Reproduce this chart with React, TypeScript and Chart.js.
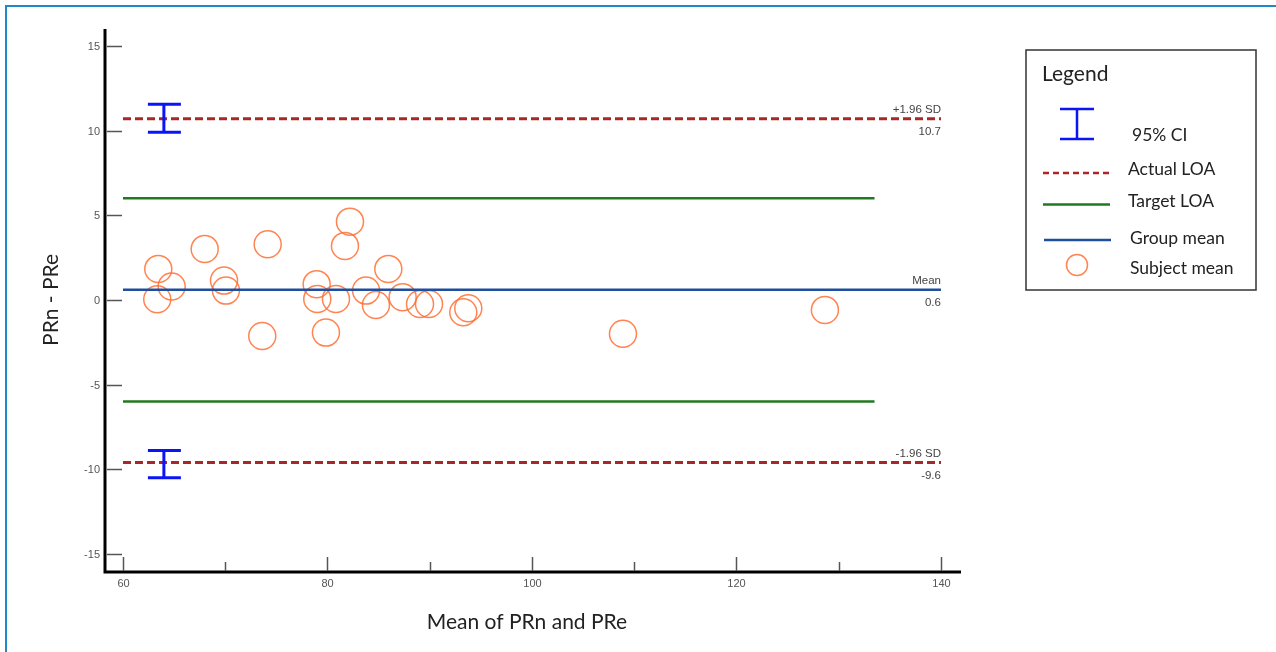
import React, { useEffect, useRef } from "react";
import { Chart, registerables } from "chart.js";

Chart.register(...registerables);

// ---- data ----
const subjectX = [63.45, 64.76, 63.35, 67.99, 69.88, 70.07, 74.15, 73.62, 82.2, 81.71, 78.94, 79.0, 80.83, 79.85, 85.95, 83.77, 84.74, 87.35, 89.05, 89.93, 93.28, 93.77, 108.9, 128.65];
const subjectY = [1.83, 0.79, 0.04, 3.01, 1.14, 0.55, 3.29, -2.13, 4.62, 3.19, 0.93, 0.06, 0.06, -1.93, 1.83, 0.55, -0.3, 0.16, -0.24, -0.24, -0.73, -0.49, -2.0, -0.59];
const meanDiff = 0.6;
const upperLOA = 10.7;
const lowerLOA = -9.6;
const targetLOA = [6, -6];
const lineStart = 60;
const lineEnd = 140;
const targetEnd = 133.5;
const ciX = 64;
const ciUpper = [9.9, 11.55];
const ciLower = [-10.5, -8.9];
const xTicks = [60, 80, 100, 120, 140];
const xMinorTicks = [70, 90, 110, 130];
const yTicks = [-15, -10, -5, 0, 5, 10, 15];
const xTitle = "Mean of PRn and PRe";
const yTitle = "PRn - PRe";
const legendItems = ["95% CI", "Actual LOA", "Target LOA", "Group mean", "Subject mean"];

const C_RED = "#A82828";
const C_GREEN = "#1F7A1F";
const C_BLUE = "#1F4E9C";
const C_CI = "#0A14F5";
const C_PT = "rgba(255,110,50,0.85)";
const UI_FONT = "Lato, 'Open Sans', sans-serif";
const TICK_FONT = "'Liberation Sans', Arial, sans-serif";

const overlayPlugin = {
  id: "overlay",
  afterDraw(chart: any) {
    const ctx = chart.ctx;
    const xs = chart.scales.x;
    const ys = chart.scales.y;
    const area = chart.chartArea;
    ctx.save();

    // outer blue frame
    ctx.strokeStyle = "#1E8BC8";
    ctx.lineWidth = 2;
    ctx.beginPath();
    ctx.moveTo(6, 652);
    ctx.lineTo(6, 6);
    ctx.lineTo(1276, 6);
    ctx.stroke();

    // axes lines
    ctx.strokeStyle = "#000";
    ctx.lineWidth = 3;
    ctx.beginPath();
    ctx.moveTo(area.left, area.top);
    ctx.lineTo(area.left, area.bottom);
    ctx.lineTo(area.right, area.bottom);
    ctx.stroke();

    // y ticks (pointing inward)
    ctx.strokeStyle = "#555";
    ctx.lineWidth = 1.5;
    ctx.fillStyle = "#555";
    ctx.font = `11px ${TICK_FONT}`;
    ctx.textAlign = "right";
    ctx.textBaseline = "middle";
    yTicks.forEach((v) => {
      const py = Math.round(ys.getPixelForValue(v)) + 0.5;
      ctx.beginPath();
      ctx.moveTo(area.left + 2, py);
      ctx.lineTo(area.left + 17, py);
      ctx.stroke();
      ctx.fillText(String(v), area.left - 5, py);
    });

    // x ticks
    ctx.textAlign = "center";
    xTicks.forEach((v) => {
      const px = Math.round(xs.getPixelForValue(v)) + 0.5;
      ctx.beginPath();
      ctx.moveTo(px, area.bottom - 1);
      ctx.lineTo(px, area.bottom - 15);
      ctx.stroke();
      ctx.fillText(String(v), px, area.bottom + 12);
    });
    xMinorTicks.forEach((v) => {
      const px = Math.round(xs.getPixelForValue(v)) + 0.5;
      ctx.beginPath();
      ctx.moveTo(px, area.bottom - 1);
      ctx.lineTo(px, area.bottom - 10);
      ctx.stroke();
    });

    // axis titles
    ctx.fillStyle = "#222";
    ctx.font = `21px ${UI_FONT}`;
    ctx.textAlign = "center";
    ctx.textBaseline = "middle";
    ctx.fillText(xTitle, (xs.getPixelForValue(60) + xs.getPixelForValue(140)) / 2 - 5, 622);
    ctx.save();
    ctx.translate(51, ys.getPixelForValue(0));
    ctx.rotate(-Math.PI / 2);
    ctx.fillText(yTitle, 0, 0);
    ctx.restore();

    // line annotations
    ctx.fillStyle = "#444";
    ctx.font = `11.5px ${TICK_FONT}`;
    ctx.textAlign = "right";
    const rx = xs.getPixelForValue(lineEnd);
    const ann: [number, string, string][] = [
      [upperLOA, "+1.96 SD", upperLOA.toFixed(1)],
      [meanDiff, "Mean", meanDiff.toFixed(1)],
      [lowerLOA, "-1.96 SD", lowerLOA.toFixed(1)],
    ];
    ann.forEach(([v, top, bottom]) => {
      const py = ys.getPixelForValue(v);
      ctx.fillText(top, rx, py - 8.5);
      ctx.fillText(bottom, rx, py + 13);
    });

    // CI bars
    ctx.strokeStyle = C_CI;
    ctx.lineWidth = 3;
    const cx = xs.getPixelForValue(ciX);
    [ciUpper, ciLower].forEach(([lo, hi]) => {
      const y1 = ys.getPixelForValue(hi);
      const y2 = ys.getPixelForValue(lo);
      ctx.beginPath();
      ctx.moveTo(cx - 16, y1);
      ctx.lineTo(cx + 17, y1);
      ctx.moveTo(cx, y1);
      ctx.lineTo(cx, y2);
      ctx.moveTo(cx - 16, y2);
      ctx.lineTo(cx + 17, y2);
      ctx.stroke();
    });

    // legend box
    const L = 1026, T = 50, R = 1256, B = 290;
    ctx.strokeStyle = "#333";
    ctx.lineWidth = 1.5;
    ctx.strokeRect(L, T, R - L, B - T);
    ctx.fillStyle = "#222";
    ctx.textAlign = "left";
    ctx.textBaseline = "middle";
    ctx.font = `21px ${UI_FONT}`;
    ctx.fillText("Legend", 1042, 74);
    ctx.font = `17.5px ${UI_FONT}`;

    // CI icon
    ctx.strokeStyle = C_CI;
    ctx.lineWidth = 2.5;
    ctx.beginPath();
    ctx.moveTo(1060, 109);
    ctx.lineTo(1094, 109);
    ctx.moveTo(1077, 109);
    ctx.lineTo(1077, 139);
    ctx.moveTo(1060, 139);
    ctx.lineTo(1094, 139);
    ctx.stroke();
    ctx.fillText(legendItems[0], 1132, 135);

    // actual LOA
    ctx.strokeStyle = C_RED;
    ctx.lineWidth = 2.5;
    ctx.setLineDash([6, 4]);
    ctx.beginPath();
    ctx.moveTo(1043, 173);
    ctx.lineTo(1110, 173);
    ctx.stroke();
    ctx.setLineDash([]);
    ctx.fillText(legendItems[1], 1128, 169);

    // target LOA
    ctx.strokeStyle = C_GREEN;
    ctx.lineWidth = 2.5;
    ctx.beginPath();
    ctx.moveTo(1043, 204.5);
    ctx.lineTo(1110, 204.5);
    ctx.stroke();
    ctx.fillText(legendItems[2], 1128, 201);

    // group mean
    ctx.strokeStyle = C_BLUE;
    ctx.beginPath();
    ctx.moveTo(1044, 240);
    ctx.lineTo(1111, 240);
    ctx.stroke();
    ctx.fillText(legendItems[3], 1130, 238);

    // subject mean
    ctx.strokeStyle = C_PT;
    ctx.lineWidth = 1.5;
    ctx.beginPath();
    ctx.arc(1077, 265, 10.5, 0, Math.PI * 2);
    ctx.stroke();
    ctx.fillText(legendItems[4], 1130, 268);

    ctx.restore();
  },
};

export default function App() {
  const ref = useRef<HTMLCanvasElement>(null);

  useEffect(() => {
    document.body.style.margin = "0";
    const canvas = ref.current!;
    const hline = (y: number, x0: number, x1: number) => [
      { x: x0, y },
      { x: x1, y },
    ];
    const chart = new Chart(canvas, {
      type: "scatter",
      data: {
        datasets: [
          {
            type: "line",
            label: "Actual LOA upper",
            data: hline(upperLOA, lineStart, lineEnd),
            borderColor: C_RED,
            borderWidth: 3,
            borderDash: [8, 4],
            pointRadius: 0,
          } as any,
          {
            type: "line",
            label: "Actual LOA lower",
            data: hline(lowerLOA, lineStart, lineEnd),
            borderColor: C_RED,
            borderWidth: 3,
            borderDash: [8, 4],
            pointRadius: 0,
          },
          {
            type: "line",
            label: "Target LOA upper",
            data: hline(targetLOA[0], lineStart, targetEnd),
            borderColor: C_GREEN,
            borderWidth: 2.5,
            pointRadius: 0,
          },
          {
            type: "line",
            label: "Target LOA lower",
            data: hline(targetLOA[1], lineStart, targetEnd),
            borderColor: C_GREEN,
            borderWidth: 2.5,
            pointRadius: 0,
          },
          {
            type: "line",
            label: "Group mean",
            data: hline(meanDiff, lineStart, lineEnd),
            borderColor: C_BLUE,
            borderWidth: 2.5,
            pointRadius: 0,
          },
          {
            label: "Subject mean",
            data: subjectX.map((x, i) => ({ x, y: subjectY[i] })),
            pointRadius: 13.5,
            pointBorderWidth: 1.5,
            pointBorderColor: C_PT,
            pointBackgroundColor: "rgba(0,0,0,0)",
            borderColor: C_PT,
          },
        ],
      },
      options: {
        responsive: false,
        animation: false,
        layout: { padding: { left: 105, top: 29, right: 315, bottom: 80 } },
        scales: {
          x: { type: "linear", min: 58.24, max: 141.96, display: false },
          y: { type: "linear", min: -16.07, max: 16.0, display: false },
        },
        plugins: {
          legend: { display: false },
          tooltip: { enabled: false },
        },
      },
      plugins: [overlayPlugin],
    });
    return () => chart.destroy();
  }, []);

  return (
    <div style={{ position: "absolute", left: 0, top: 0, width: 1276, height: 652, background: "#fff" }}>
      <canvas ref={ref} width={1276} height={652} style={{ width: 1276, height: 652, display: "block" }} />
    </div>
  );
}
